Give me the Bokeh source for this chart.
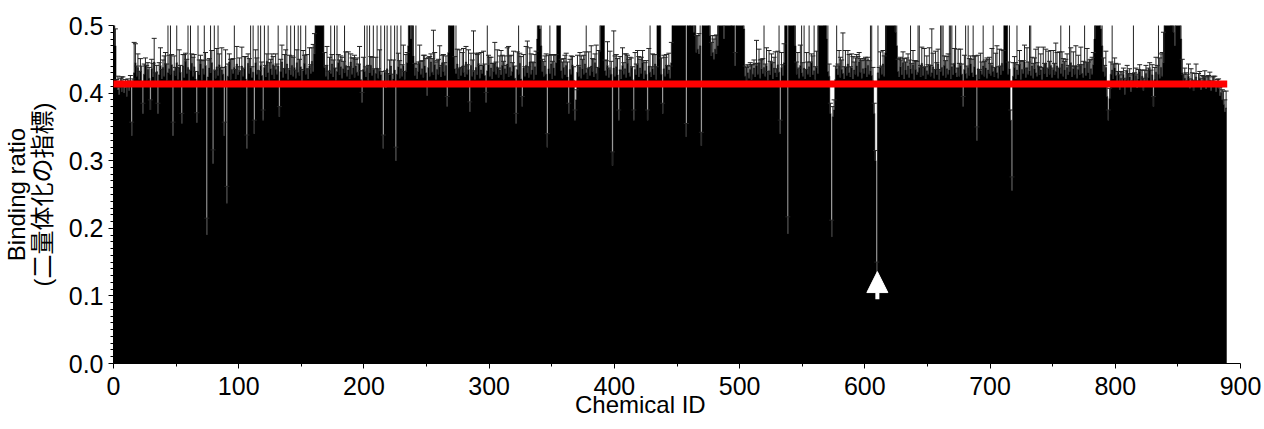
import numpy as np
from bokeh.plotting import figure
from bokeh.models import ColumnDataSource, Range1d, FixedTicker, PrintfTickFormatter, Arrow, NormalHead
from bokeh.embed import file_html
from bokeh.resources import INLINE

# Binding ratio (x1000) per chemical, IDs 1..889
ratio_1 = [530,470,412,405,398,410,402,415,400,408,
           395,411,404,417,337,409,430,445,425,438,
           420,433,415,370,428,440,419,435,422,375,
           436,424,446,418,432,370,427,441,421,438,
           425,444,419,430,436,428,442,337,433,426,
           445,420,437,431,355,440,423,447,429,438,
           418,434,444,425,439,421,356,432,427,443,
           419,436,428,441,190,424,437,430,445,296,
           433,422,439,426,442,417,434,428,337,440,
           237,425,446,420,435,429,438,421,443,427]
ratio_2 = [432,418,440,425,436,421,318,444,429,437,
           423,431,340,445,428,434,420,441,426,360,
           438,424,447,430,419,436,427,442,421,435,
           428,440,365,432,446,423,437,429,443,420,
           434,427,441,425,438,422,445,431,426,439,
           418,433,444,428,436,421,440,429,447,432,
           458,525,540,515,560,530,545,520,438,425,
           441,420,434,429,443,424,437,419,432,445,
           427,439,422,436,430,441,425,434,421,446,
           428,437,423,440,431,426,443,420,386,435]
ratio_3 = [432,424,438,419,430,441,426,435,418,429,
           437,422,433,427,412,318,431,408,436,415,
           427,440,410,421,434,300,428,439,422,436,
           425,441,420,433,445,470,505,480,510,455,
           426,437,421,432,444,428,436,423,440,430,
           396,438,425,446,431,427,442,420,435,428,
           439,424,445,432,426,441,380,460,520,545,
           530,515,436,429,443,421,437,426,440,431,
           424,446,428,435,372,441,425,432,420,438,
           427,444,422,434,429,440,426,386,433,442]
ratio_4 = [425,437,421,432,445,428,439,423,434,427,
           441,420,436,429,443,424,438,426,432,440,
           422,355,435,428,444,421,380,437,425,441,
           430,423,446,428,434,420,439,427,480,510,
           495,470,432,425,440,428,320,436,429,443,
           421,437,426,445,520,540,510,433,422,438,
           427,441,424,370,435,428,442,419,360,390,
           431,425,439,422,436,428,443,430,421,437,
           426,440,432,424,445,429,420,438,462,530,
           545,515,433,426,441,423,435,428,293,437]
ratio_5 = [425,439,427,360,434,421,441,428,436,423,
           444,430,425,438,420,360,435,427,442,424,
           437,429,445,421,433,428,360,440,431,424,
           436,427,443,420,505,530,500,428,370,436,
           425,441,429,434,422,445,510,535,520,548,
           505,530,515,560,525,540,510,335,520,545,
           500,530,515,490,550,460,465,458,470,322,
           520,505,540,515,530,500,485,455,460,450,
           465,458,470,520,545,510,535,480,525,505,
           550,515,530,500,540,520,440,510,535,505]
ratio_6 = [520,540,510,495,425,418,430,422,435,420,
           428,437,424,440,428,445,422,436,429,438,
           425,441,419,433,427,444,421,437,430,424,
           442,431,340,438,426,445,505,530,192,520,
           545,510,535,500,470,428,436,422,441,430,
           425,437,421,434,428,439,424,445,427,433,
           420,438,429,505,530,515,545,500,520,480,
           432,425,370,187,365,375,420,436,427,441,
           423,435,429,421,438,426,443,430,424,437,
           421,434,428,440,425,446,431,422,436,429]
ratio_7 = [437,424,441,428,433,426,418,370,300,130,
           430,422,437,428,443,425,460,520,545,510,
           535,555,525,505,490,470,432,424,439,427,
           445,421,434,428,440,423,436,429,442,420,
           435,427,431,438,424,444,426,437,421,433,
           428,441,425,430,439,422,435,427,443,420,
           432,438,426,441,423,436,428,434,421,439,
           427,444,430,424,437,425,441,428,380,435,
           429,422,438,426,443,430,424,439,427,330,
           436,421,433,428,440,425,437,422,434,429]
ratio_8 = [426,441,432,424,437,430,422,439,427,444,
           433,510,540,505,428,436,360,256,425,438,
           421,434,427,442,420,435,429,446,423,437,
           428,433,426,440,422,436,430,425,441,427,
           434,420,438,429,444,424,436,428,441,423,
           435,427,432,440,422,437,429,443,425,434,
           421,438,427,432,445,424,436,428,440,422,
           435,427,441,429,423,437,426,444,430,421,
           436,428,442,480,520,505,540,515,495,470,
           432,425,438,395,360,392,428,434,421,437]
ratio_9 = [426,418,431,405,422,414,428,398,420,433,
           411,424,402,419,430,415,426,408,421,432,
           412,425,404,418,429,410,423,435,414,427,
           380,420,431,416,428,422,438,425,445,510,
           540,525,555,515,500,535,490,470,520,545,
           505,530,480,430,416,422,410,419,425,407,
           414,420,403,417,424,409,415,421,405,418,
           412,423,406,416,411,419,404,414,409,417,
           402,411,407,396,401,390,383,372,378]

# Standard deviation (x1000)
sd_1 = [30,25,8,20,10,12,22,9,15,12,
        18,10,14,9,20,12,45,28,15,20,
        12,18,25,15,15,12,22,10,16,15,
        14,20,35,12,9,15,18,26,14,11,
        30,16,24,95,20,90,15,20,22,12,
        80,18,27,10,15,17,34,12,21,85,
        16,90,14,28,18,11,15,100,22,13,
        30,12,95,19,25,25,14,85,18,20,
        90,12,27,95,16,21,33,10,20,24,
        25,18,12,30,15,22,90,14,26,12]
sd_2 = [20,15,28,12,18,33,20,14,22,90,
        16,95,20,19,24,90,13,85,20,15,
        95,17,11,90,26,14,31,12,19,23,
        15,85,15,18,25,13,20,35,80,16,
        22,95,14,28,90,12,19,90,24,85,
        17,30,12,95,21,15,27,13,20,40,
        30,20,25,30,20,25,20,30,22,16,
        28,12,19,90,14,25,90,18,95,12,
        22,16,31,11,90,20,14,27,18,12,
        24,15,33,10,21,17,26,13,15,18]
sd_3 = [85,15,90,22,95,13,27,90,18,24,
        90,14,31,90,20,20,90,25,95,14,
        22,85,18,28,90,20,95,20,26,90,
        17,30,12,24,15,40,20,30,25,50,
        18,90,22,14,27,19,12,33,16,21,
        15,15,29,12,20,66,18,26,13,22,
        31,17,11,25,19,14,15,45,25,20,
        30,25,18,80,22,15,27,12,20,35,
        16,23,14,29,15,18,24,60,13,21,
        30,15,19,26,12,22,17,15,90,14]
sd_4 = [28,16,23,12,30,18,25,14,21,36,
        15,27,19,12,24,45,17,30,13,22,
        18,15,26,90,15,33,15,20,14,28,
        47,16,21,30,12,25,18,35,40,25,
        30,45,18,22,15,30,20,20,90,14,
        26,19,31,12,20,25,30,17,24,13,
        29,18,22,15,15,27,12,20,15,15,
        25,16,21,33,14,28,18,90,15,24,
        12,30,19,26,13,42,18,25,40,20,
        25,30,16,22,35,14,27,19,20,55]
sd_5 = [30,18,24,15,20,13,26,17,22,35,
        12,20,28,14,19,15,25,16,21,30,
        13,24,18,27,12,20,15,26,90,15,
        22,30,14,19,25,20,30,24,15,20,
        28,16,12,25,18,30,20,25,30,20,
        35,25,30,20,25,30,20,20,30,25,
        30,20,25,35,20,25,20,30,35,20,
        30,25,20,30,25,35,30,20,25,30,
        20,28,40,25,20,30,25,30,20,30,
        25,20,30,35,20,25,20,30,25,20]
sd_6 = [25,20,30,30,15,20,12,18,10,22,
        14,12,20,38,16,20,27,14,22,90,
        18,26,13,30,20,14,24,16,31,12,
        20,90,20,22,16,28,25,20,25,30,
        20,25,30,25,40,18,24,15,30,90,
        20,90,14,26,18,90,22,13,28,90,
        19,24,90,20,25,30,20,25,30,35,
        90,18,15,25,15,15,20,90,16,22,
        30,14,60,18,25,12,20,27,15,21,
        33,12,24,17,29,14,20,26,13,22]
sd_7 = [16,25,12,20,90,95,20,15,15,20,
        90,16,24,12,20,30,45,25,20,30,
        25,20,30,25,35,40,18,27,14,22,
        16,30,12,24,18,26,90,15,21,28,
        13,20,90,95,17,24,12,29,18,22,
        14,26,16,65,20,13,27,18,22,15,
        90,95,90,14,25,18,30,90,95,85,
        16,22,90,13,28,19,24,15,15,21,
        90,18,90,25,12,20,90,16,28,20,
        20,14,26,18,90,22,12,30,16,24]
sd_8 = [18,25,90,14,22,40,17,26,13,20,
        30,25,20,30,18,90,15,20,20,16,
        24,90,15,21,28,12,19,25,14,30,
        18,90,95,13,22,16,35,20,27,12,
        24,18,30,15,21,13,26,19,22,14,
        28,17,42,20,15,24,90,18,26,13,
        29,20,14,90,22,16,25,12,30,18,
        21,15,27,13,24,90,19,22,16,28,
        14,25,18,40,25,30,20,25,30,45,
        20,16,24,15,15,15,18,90,22,15]
sd_9 = [18,14,12,22,10,16,9,24,13,8,
        18,12,25,10,85,15,11,20,14,10,
        22,9,18,16,12,24,14,10,20,15,
        15,18,22,25,85,30,20,35,45,25,
        20,30,25,20,30,25,35,40,25,20,
        30,25,40,20,12,15,20,9,18,14,
        22,10,16,12,19,9,14,11,17,8,
        13,10,18,9,15,12,14,10,16,8,
        12,9,14,12,10,15,20,18,25]

threshold = 0.4135      # red reference line
arrow_id = 610          # highlighted chemical
arrow_y = (0.095, 0.136)

x_ticks = [0, 100, 200, 300, 400, 500, 600, 700, 800, 900]
x_minor = [50, 150, 250, 350, 450, 550, 650, 750, 850]
y_ticks = [0.0, 0.1, 0.2, 0.3, 0.4, 0.5]

ratio = np.array(ratio_1 + ratio_2 + ratio_3 + ratio_4 + ratio_5 +
                 ratio_6 + ratio_7 + ratio_8 + ratio_9) / 1000.0
sd = np.array(sd_1 + sd_2 + sd_3 + sd_4 + sd_5 +
              sd_6 + sd_7 + sd_8 + sd_9) / 1000.0
n = len(ratio)
ids = np.arange(1, n + 1)
xc = ids - 0.5
cap_half = 2.0

# bar edges: each bar spans [id-1, id]; drawn as one stepped area so no seams
edges = np.arange(0, n + 1)
tops = np.append(ratio, ratio[-1])

src = ColumnDataSource(dict(x=xc, top=ratio, upper=ratio + sd,
                            cl=xc - cap_half, cr=xc + cap_half))

p = figure(width=1264, height=429, x_range=Range1d(0, 900), y_range=Range1d(0, 0.5),
           output_backend="svg", toolbar_location=None,
           min_border_left=112, min_border_right=24, min_border_top=25, min_border_bottom=66)
p.outline_line_color = None
p.xgrid.grid_line_color = None
p.ygrid.grid_line_color = None
p.background_fill_color = "white"

p.varea_step(x=edges, y1=np.zeros(n + 1), y2=tops, step_mode="after", fill_color="black")
p.step(x=edges, y=tops, mode="after", line_color="black", line_width=0.6)
p.segment(x0="x", y0="top", x1="x", y1="upper", source=src, line_color="#222222", line_width=1)
p.segment(x0="cl", y0="upper", x1="cr", y1="upper", source=src, line_color="#222222", line_width=1)

red = p.segment(x0=[0], y0=[threshold], x1=[n + 0.4], y1=[threshold],
                line_color="#ff0000", line_width=7, line_cap="butt")
red.level = "overlay"

arr = Arrow(x_start=arrow_id, y_start=arrow_y[0], x_end=arrow_id, y_end=arrow_y[1],
            line_color="white", line_width=4,
            end=NormalHead(size=21, fill_color="white", line_color="white", line_width=1))
arr.level = "overlay"
p.add_layout(arr)

font = "'Liberation Sans', 'Noto Sans CJK JP'"
p.xaxis.ticker = FixedTicker(ticks=x_ticks, minor_ticks=x_minor)
p.yaxis.ticker = FixedTicker(ticks=y_ticks, minor_ticks=[i / 100 for i in range(51)])
p.yaxis.formatter = PrintfTickFormatter(format="%.1f")
for ax in (p.xaxis, p.yaxis):
    ax.axis_line_color = "black"
    ax.axis_line_width = 1
    ax.major_tick_line_color = "black"
    ax.minor_tick_line_color = "black"
    ax.major_tick_in = 0
    ax.major_tick_out = 5
    ax.minor_tick_in = 0
    ax.minor_tick_out = 3
    ax.major_label_text_font = font
    ax.major_label_text_font_size = "25px"
    ax.major_label_text_color = "black"
    ax.axis_label_text_font = font
    ax.axis_label_text_font_style = "normal"
    ax.axis_label_text_font_size = "24px"
    ax.axis_label_text_color = "black"
p.xaxis.major_label_standoff = 8
p.xaxis.axis_label_standoff = -7
p.yaxis.major_label_standoff = 5
p.yaxis.axis_label_standoff = 10
# the original title sits left of the frame centre; trailing no-break spaces shift it
p.xaxis.axis_label = "Chemical ID" + "\u00a0" * 11
p.yaxis.axis_label = "Binding ratio\n(二量体化の指標)"
p.yaxis.axis_label_text_line_height = 0.95

open("out.html", "w").write(file_html(p, INLINE))
